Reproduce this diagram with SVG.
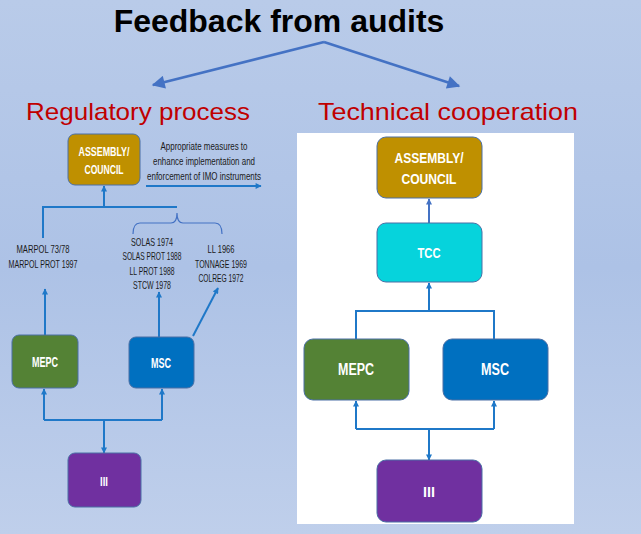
<svg xmlns="http://www.w3.org/2000/svg" width="641" height="534" viewBox="0 0 641 534">
<defs>
<linearGradient id="bg" x1="0" y1="0" x2="0" y2="1">
<stop offset="0" stop-color="#B9CBE9"/>
<stop offset="0.5" stop-color="#ADC2E6"/>
<stop offset="1" stop-color="#BFCFEB"/>
</linearGradient>
<marker id="big" viewBox="0 0 10 10" refX="9" refY="5" markerUnits="userSpaceOnUse" markerWidth="15" markerHeight="13" orient="auto">
<path d="M0,0 L10,5 L0,10 z" fill="#4472C4"/>
</marker>
<marker id="sm" viewBox="0 0 10 10" refX="9" refY="5" markerUnits="userSpaceOnUse" markerWidth="7" markerHeight="6" orient="auto">
<path d="M0,0 L10,5 L0,10 z" fill="#1F78C8"/>
</marker>
<marker id="smL" viewBox="0 0 10 10" refX="9" refY="5" markerUnits="userSpaceOnUse" markerWidth="7" markerHeight="6" orient="auto">
<path d="M0,0 L10,5 L0,10 z" fill="#4472C4"/>
</marker>
</defs>
<style>
.title{font-family:"Liberation Sans",Arial,sans-serif;font-weight:bold;font-size:32px;fill:#000}
.sub{font-family:"Liberation Sans",Arial,sans-serif;font-size:24px;fill:#C00000}
.lbl{font-family:"Liberation Sans",Arial,sans-serif;font-weight:bold;fill:#fff;text-anchor:middle}
.small{font-family:"Liberation Sans",Arial,sans-serif;font-size:10.5px;fill:#1a1a1a;text-anchor:middle}
.box{stroke:#4A6FA5;stroke-width:1}
.gold{fill:#BF9000}.green{fill:#548235}.blue{fill:#0070C0}.purple{fill:#7030A0}.cyan{fill:#06D3DC}
.con{fill:none;stroke:#1F78C8;stroke-width:2}
.conL{fill:none;stroke:#4472C4;stroke-width:2}
</style>
<rect x="0" y="0" width="641" height="534" fill="url(#bg)"/>
<rect x="297" y="133" width="277" height="391" fill="#FFFFFF"/>

<text class="title" x="279" y="32" text-anchor="middle">Feedback from audits</text>
<text class="sub" x="26" y="120" textLength="224" lengthAdjust="spacingAndGlyphs">Regulatory process</text>
<text class="sub" x="318" y="120" textLength="260" lengthAdjust="spacingAndGlyphs">Technical cooperation</text>

<g id="connectors">
<path d="M324,42 L153,85" fill="none" stroke="#4472C4" stroke-width="2.5" marker-end="url(#big)"/>
<path d="M324,42 L459,86" fill="none" stroke="#4472C4" stroke-width="2.5" marker-end="url(#big)"/>
<path class="con" d="M104,207 L104,186" marker-end="url(#sm)"/>
<path class="con" d="M43,238 L43,207 L177,207"/>
<path class="con" d="M146,186 L261,186" marker-end="url(#sm)"/>
<path d="M133,234 Q133,223 140,223 L171,223 Q177,223 177,213 Q177,223 183,223 L215,223 Q222,223 222,234" fill="none" stroke="#4472C4" stroke-width="1.2"/>
<path class="con" d="M45,335 L45,289" marker-end="url(#sm)"/>
<path class="con" d="M159,337 L159,292" marker-end="url(#sm)"/>
<path class="con" d="M193,336 L218,288" marker-end="url(#sm)"/>
<path class="con" d="M44,420 L44,389" marker-end="url(#sm)"/>
<path class="con" d="M162,420 L162,389" marker-end="url(#sm)"/>
<path class="con" d="M44,420 L162,420"/>
<path class="con" d="M104,420 L104,453" marker-end="url(#sm)"/>
<path class="conL" d="M429,223 L429,199" marker-end="url(#smL)"/>
<path class="con" d="M429,311 L429,283" marker-end="url(#sm)"/>
<path class="con" d="M356,339 L356,311 L494,311 L494,339"/>
<path class="con" d="M356,429 L356,401" marker-end="url(#sm)"/>
<path class="con" d="M494,429 L494,401" marker-end="url(#sm)"/>
<path class="con" d="M356,429 L494,429"/>
<path class="con" d="M429,429 L429,460" marker-end="url(#sm)"/>
</g>

<g id="measures-text">
<text class="small" x="204" y="150" textLength="87" lengthAdjust="spacingAndGlyphs">Appropriate measures to</text>
<text class="small" x="204" y="165" textLength="102" lengthAdjust="spacingAndGlyphs">enhance implementation and</text>
<text class="small" x="204" y="180" textLength="114" lengthAdjust="spacingAndGlyphs">enforcement of IMO instruments</text>
</g>
<g id="marpol-text">
<text class="small" x="43" y="253" textLength="53" lengthAdjust="spacingAndGlyphs">MARPOL 73/78</text>
<text class="small" x="43" y="268" textLength="69" lengthAdjust="spacingAndGlyphs">MARPOL PROT 1997</text>
</g>
<g id="solas-text">
<text class="small" x="152" y="246" textLength="42" lengthAdjust="spacingAndGlyphs">SOLAS 1974</text>
<text class="small" x="152" y="260" textLength="59" lengthAdjust="spacingAndGlyphs">SOLAS PROT 1988</text>
<text class="small" x="152" y="275" textLength="45" lengthAdjust="spacingAndGlyphs">LL PROT 1988</text>
<text class="small" x="152" y="289" textLength="38" lengthAdjust="spacingAndGlyphs">STCW 1978</text>
</g>
<g id="ll-text">
<text class="small" x="221" y="253" textLength="27" lengthAdjust="spacingAndGlyphs">LL 1966</text>
<text class="small" x="221" y="268" textLength="52" lengthAdjust="spacingAndGlyphs">TONNAGE 1969</text>
<text class="small" x="221" y="282" textLength="45" lengthAdjust="spacingAndGlyphs">COLREG 1972</text>
</g>

<g id="left-assembly">
<rect class="box gold" x="68" y="134" width="72" height="51" rx="7"/>
<text class="lbl" x="104" y="156" font-size="13" textLength="51" lengthAdjust="spacingAndGlyphs">ASSEMBLY/</text>
<text class="lbl" x="104" y="174" font-size="13" textLength="39" lengthAdjust="spacingAndGlyphs">COUNCIL</text>
</g>
<g id="left-mepc">
<rect class="box green" x="12" y="335" width="66" height="53" rx="7"/>
<text class="lbl" x="45" y="367" font-size="14" textLength="26" lengthAdjust="spacingAndGlyphs">MEPC</text>
</g>
<g id="left-msc">
<rect class="box blue" x="129" y="337" width="65" height="51" rx="7"/>
<text class="lbl" x="161" y="368" font-size="14" textLength="20" lengthAdjust="spacingAndGlyphs">MSC</text>
</g>
<g id="left-iii">
<rect class="box purple" x="68" y="453" width="73" height="54" rx="7"/>
<text class="lbl" x="104" y="486" font-size="13" textLength="8" lengthAdjust="spacingAndGlyphs">III</text>
</g>

<g id="right-assembly">
<rect class="box gold" x="377" y="137" width="105" height="61" rx="9"/>
<text class="lbl" x="429" y="163" font-size="15" textLength="69" lengthAdjust="spacingAndGlyphs">ASSEMBLY/</text>
<text class="lbl" x="429" y="184" font-size="15" textLength="55" lengthAdjust="spacingAndGlyphs">COUNCIL</text>
</g>
<g id="right-tcc">
<rect class="box cyan" x="377" y="223" width="105" height="59" rx="9"/>
<text class="lbl" x="429" y="258" font-size="15" textLength="23" lengthAdjust="spacingAndGlyphs">TCC</text>
</g>
<g id="right-mepc">
<rect class="box green" x="304" y="339" width="105" height="61" rx="9"/>
<text class="lbl" x="356" y="375" font-size="16" textLength="36" lengthAdjust="spacingAndGlyphs">MEPC</text>
</g>
<g id="right-msc">
<rect class="box blue" x="443" y="339" width="105" height="61" rx="9"/>
<text class="lbl" x="495" y="375" font-size="16" textLength="28" lengthAdjust="spacingAndGlyphs">MSC</text>
</g>
<g id="right-iii">
<rect class="box purple" x="377" y="460" width="105" height="62" rx="9"/>
<text class="lbl" x="429" y="497" font-size="15" textLength="12" lengthAdjust="spacingAndGlyphs">III</text>
</g>
</svg>
